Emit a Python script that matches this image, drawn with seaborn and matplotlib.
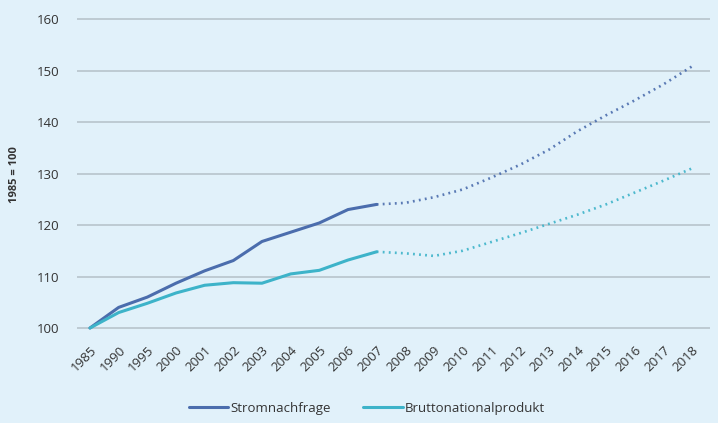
import numpy as np
import pandas as pd
import matplotlib
matplotlib.use("Agg")
import matplotlib.pyplot as plt
import seaborn as sns
from matplotlib.lines import Line2D

years = ["1985", "1990", "1995", "2000", "2001", "2002", "2003", "2004", "2005",
         "2006", "2007", "2008", "2009", "2010", "2011", "2012", "2013", "2014",
         "2015", "2016", "2017", "2018"]

# Index values (1985 = 100); history up to 2007, projection afterwards
strom = [100, 104.0, 106.0, 108.7, 111.1, 113.1, 116.8, 118.6, 120.4, 123.0, 124.0,
         124.3, 125.4, 126.9, 129.2, 131.7, 134.6, 138.2, 141.3, 144.2, 147.3, 150.8]
bnp = [100, 103.0, 104.8, 106.8, 108.3, 108.8, 108.7, 110.5, 111.2, 113.2, 114.8,
       114.5, 114.0, 115.0, 116.7, 118.4, 120.2, 122.0, 124.0, 126.3, 128.6, 131.0]
last_actual = "2007"

series_names = ["Stromnachfrage", "Bruttonationalprodukt"]
colors = {"Stromnachfrage": "#4b6dad", "Bruttonationalprodukt": "#3db3c9"}

split = years.index(last_actual)
rows = []
for name, vals in zip(series_names, [strom, bnp]):
    for i, (y, v) in enumerate(zip(years, vals)):
        if i <= split:
            rows.append(dict(pos=i, value=v, series=name, part="ist"))
        if i >= split:
            rows.append(dict(pos=i, value=v, series=name, part="prognose"))
df = pd.DataFrame(rows)

sns.set_theme(style="white")
plt.rcParams["font.family"] = ["Open Sans", "DejaVu Sans"]

bg = "#e1f1fa"
text_col = "#333333"
fig = plt.figure(figsize=(7.18, 4.23), dpi=100, facecolor=bg)
ax = fig.add_axes([77 / 718, 1 - 338.3 / 423, (710 - 77) / 718, (338.3 - 11.3) / 423])
ax.set_facecolor(bg)

for name in series_names:
    sub = df[(df.series == name) & (df.part == "ist")]
    sns.lineplot(data=sub, x="pos", y="value", ax=ax, color=colors[name],
                 linewidth=2.2, estimator=None, legend=False)
    sub = df[(df.series == name) & (df.part == "prognose")]
    sns.lineplot(data=sub, x="pos", y="value", ax=ax, color=colors[name],
                 linewidth=1.9, linestyle=(0, (0.7, 1.6)), alpha=0.9,
                 estimator=None, legend=False)

ax.set_xlim(-0.453, len(years) - 1 + 0.628)
ax.set_ylim(98, 161.5)
ax.set_yticks([100, 110, 120, 130, 140, 150, 160])
ax.set_xticks(range(len(years)))
ax.set_xticklabels(years, rotation=45, ha="right", rotation_mode="anchor")
ax.tick_params(axis="both", labelsize=9.5, labelcolor=text_col, length=0, pad=4)
ax.tick_params(axis="y", pad=13)
ax.grid(axis="y", color="#b4c0c8", linewidth=1.1)
ax.set_axisbelow(True)
for s in ax.spines.values():
    s.set_visible(False)
ax.set_xlabel("")
ax.set_ylabel("1985 = 100", fontsize=8, fontweight="bold", color=text_col)
ax.yaxis.set_label_coords(-0.09, 0.5)

handles = [Line2D([0], [0], color=colors[n], linewidth=2.2) for n in series_names]
fig.legend(handles, series_names, loc="center", ncol=2,
           bbox_to_anchor=(367 / 718, 1 - 408 / 423), frameon=False,
           fontsize=9.5, handlelength=3.0, handletextpad=0.2, columnspacing=2.4,
           labelcolor=text_col)

fig.savefig("out.png", dpi=100, facecolor=bg)
